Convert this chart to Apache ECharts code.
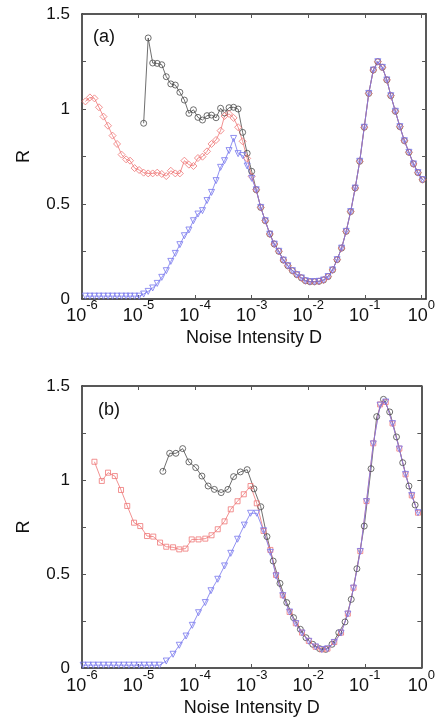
<!DOCTYPE html>
<html>
<head>
<meta charset="utf-8">
<script src="https://cdn.jsdelivr.net/npm/echarts@6/dist/echarts.min.js"></script>
<style>
  html, body { margin: 0; padding: 0; background: #fff; }
  #chart { width: 438px; height: 721px; }
</style>
</head>
<body>
<div id="chart"></div>
<script>
// panel (a): all three curves share one grid of log10(D)
const expA = [-5.94, -5.86, -5.78, -5.70, -5.62, -5.54, -5.46, -5.38, -5.30, -5.22,
  -5.15, -5.07, -4.99, -4.91, -4.83, -4.75, -4.67, -4.59, -4.51, -4.43,
  -4.35, -4.27, -4.19, -4.11, -4.03, -3.95, -3.87, -3.79, -3.71, -3.63,
  -3.55, -3.48, -3.40, -3.32, -3.24, -3.16, -3.08, -3.00, -2.92, -2.84,
  -2.76, -2.68, -2.60, -2.52, -2.44, -2.36, -2.28, -2.20, -2.12, -2.05,
  -1.97, -1.89, -1.81, -1.73, -1.65, -1.57, -1.49, -1.41, -1.33, -1.25,
  -1.17, -1.09, -1.01, -0.93, -0.85, -0.77, -0.69, -0.61, -0.54, -0.46,
  -0.38, -0.30, -0.22, -0.14, -0.06, 0.02]

// black curve starts at expA[13]
const blackHeadA = [0.925, 1.374, 1.242, 1.240, 1.233, 1.170, 1.132, 1.126, 1.088, 1.047,
  0.977, 0.996, 0.956, 0.942, 0.965, 0.968, 0.954, 1.004, 0.979, 1.007,
  1.009, 1.000, 0.877, 0.767, 0.672]
const redHeadA = [1.040, 1.061, 1.056, 1.009, 0.960, 0.912, 0.860, 0.816, 0.760, 0.735,
  0.728, 0.689, 0.679, 0.665, 0.661, 0.661, 0.665, 0.658, 0.647, 0.675,
  0.661, 0.661, 0.728, 0.707, 0.700, 0.742, 0.749, 0.777, 0.816, 0.837,
  0.886, 0.963, 0.974, 0.953, 0.904, 0.830, 0.740, 0.645]
const blueHeadA = [0.015, 0.015, 0.015, 0.015, 0.015, 0.015, 0.015, 0.015, 0.015, 0.015,
  0.015, 0.015, 0.015, 0.026, 0.040, 0.058, 0.082, 0.114, 0.149, 0.198,
  0.240, 0.286, 0.333, 0.363, 0.412, 0.447, 0.465, 0.518, 0.561, 0.623,
  0.693, 0.728, 0.781, 0.845, 0.765, 0.755, 0.700, 0.635]
// expA[38..75], where the three curves fall on top of each other
const tailA = [0.575, 0.482, 0.412, 0.342, 0.289, 0.251, 0.205, 0.175, 0.149, 0.128,
  0.111, 0.096, 0.091, 0.091, 0.093, 0.100, 0.118, 0.153, 0.207, 0.268,
  0.356, 0.460, 0.584, 0.725, 0.904, 1.082, 1.205, 1.249, 1.219, 1.153,
  1.070, 0.988, 0.907, 0.833, 0.772, 0.711, 0.665, 0.628]

// panel (b)
const expBlackB = [-4.57, -4.45, -4.34, -4.22, -4.11, -3.99, -3.88, -3.77, -3.66, -3.54,
  -3.42, -3.32, -3.20, -3.08, -2.96, -2.84, -2.73, -2.62, -2.50, -2.38,
  -2.26, -2.14, -2.04, -1.92, -1.80, -1.69, -1.58, -1.46, -1.35, -1.24,
  -1.14, -1.01, -0.89, -0.79, -0.67, -0.56, -0.44, -0.33, -0.22, -0.11]
const blackB = [1.046, 1.142, 1.142, 1.167, 1.096, 1.066, 1.021, 0.968, 0.950, 0.933,
  0.950, 1.018, 1.043, 1.055, 0.953, 0.858, 0.699, 0.569, 0.450, 0.348,
  0.268, 0.206, 0.161, 0.126, 0.103, 0.099, 0.126, 0.188, 0.245, 0.365,
  0.528, 0.755, 1.060, 1.337, 1.429, 1.362, 1.229, 1.092, 0.968, 0.867]

const expRedB = [-5.78, -5.65, -5.54, -5.42, -5.31, -5.20, -5.08, -4.97, -4.85, -4.74,
  -4.62, -4.51, -4.39, -4.28, -4.17, -4.06, -3.94, -3.82, -3.71, -3.60,
  -3.48, -3.37, -3.25, -3.14, -3.02, -2.91, -2.79, -2.67, -2.57, -2.45,
  -2.33, -2.22, -2.11, -1.99, -1.87, -1.76, -1.66, -1.54, -1.42, -1.30,
  -1.20, -1.08, -0.97, -0.85, -0.73, -0.63, -0.51, -0.39, -0.28, -0.17, -0.06]
const redB = [1.097, 0.995, 1.039, 1.021, 0.947, 0.862, 0.773, 0.755, 0.702, 0.699,
  0.667, 0.645, 0.642, 0.631, 0.635, 0.684, 0.684, 0.688, 0.706, 0.738,
  0.780, 0.844, 0.887, 0.924, 0.968, 0.876, 0.729, 0.628, 0.495, 0.387,
  0.298, 0.238, 0.188, 0.144, 0.113, 0.099, 0.103, 0.138, 0.188, 0.289,
  0.427, 0.622, 0.888, 1.195, 1.402, 1.415, 1.301, 1.167, 1.030, 0.918, 0.826]

const expBlueB = [-5.98, -5.89, -5.80, -5.71, -5.62, -5.53, -5.44, -5.35, -5.26, -5.17,
  -5.08, -4.99, -4.90, -4.81, -4.72, -4.63, -4.51, -4.39, -4.28, -4.16,
  -4.05, -3.94, -3.82, -3.72, -3.60, -3.48, -3.37, -3.25, -3.13, -3.02,
  -2.91, -2.79, -2.67, -2.57, -2.45, -2.33, -2.22, -2.11, -1.99, -1.87,
  -1.76, -1.66, -1.54, -1.42, -1.30, -1.20, -1.08, -0.97, -0.85, -0.73,
  -0.63, -0.51, -0.39, -0.28, -0.17, -0.06]
const blueB = [0.015, 0.015, 0.015, 0.015, 0.015, 0.015, 0.015, 0.015, 0.015, 0.015,
  0.015, 0.015, 0.015, 0.015, 0.015, 0.015, 0.037, 0.073, 0.121, 0.170,
  0.227, 0.294, 0.348, 0.411, 0.472, 0.543, 0.610, 0.685, 0.760, 0.823,
  0.823, 0.730, 0.615, 0.490, 0.385, 0.298, 0.236, 0.186, 0.142, 0.112,
  0.098, 0.102, 0.136, 0.186, 0.287, 0.425, 0.620, 0.885, 1.192, 1.398,
  1.415, 1.300, 1.165, 1.030, 0.918, 0.826]

const yTicks = ['0', '0.5', '1', '1.5']

const FONT = '"Liberation Sans", Arial, Helvetica, sans-serif'
const INK = '#111'
const BLACK = '#4a4a4a'
const RED = '#ef7676'
const BLUE = '#7676ee'

function pairs(exps, vals, offset) {
  return vals.map((v, i) => [Math.pow(10, exps[i + offset]), v])
}

function powLabel(v) {
  const e = Math.log10(v)
  const n = Math.round(e)
  if (Math.abs(e - n) > 1e-3) return ''
  return '{b|10}{s|' + n + '}'
}

function xAxes(grid, max, labelMargin, nameGap) {
  const line = { onZero: false, lineStyle: { color: '#222', width: 1.5 } }
  const tick = { inside: true, length: 4, lineStyle: { color: '#555' } }
  return [{
    gridIndex: grid, type: 'log', logBase: 10, min: 1e-6, max: max, splitNumber: 6,
    name: 'Noise Intensity D', nameLocation: 'middle', nameGap: nameGap,
    nameTextStyle: { fontFamily: FONT, fontSize: 18, color: INK },
    axisLine: line, axisTick: tick, splitLine: { show: false },
    axisLabel: {
      margin: labelMargin, formatter: powLabel, hideOverlap: false,
      rich: {
        b: { fontFamily: FONT, fontSize: 18, lineHeight: 26, verticalAlign: 'bottom', color: INK },
        s: { fontFamily: FONT, fontSize: 13, lineHeight: 13, verticalAlign: 'top', color: INK }
      }
    }
  }, {
    gridIndex: grid, type: 'log', logBase: 10, min: 1e-6, max: max, splitNumber: 6,
    position: 'top', axisLine: line, axisTick: tick,
    axisLabel: { show: false }, splitLine: { show: false }
  }]
}

function yAxes(grid) {
  const line = { onZero: false, lineStyle: { color: '#222', width: 1.5 } }
  const tick = { inside: true, length: 4, lineStyle: { color: '#555' } }
  return [{
    gridIndex: grid, type: 'value', min: 0, max: 1.5, interval: 0.25,
    name: 'R', nameLocation: 'middle', nameGap: 49, nameRotate: 90,
    nameTextStyle: { fontFamily: FONT, fontSize: 18, color: INK },
    axisLine: line, axisTick: tick, splitLine: { show: false },
    axisLabel: {
      margin: 12, fontFamily: FONT, fontSize: 17, color: INK,
      formatter: (v) => {
        const k = v * 2
        return Math.abs(k - Math.round(k)) < 1e-6 ? yTicks[Math.round(k)] : ''
      }
    }
  }, {
    gridIndex: grid, type: 'value', min: 0, max: 1.5, interval: 0.25, position: 'right',
    axisLine: line, axisTick: tick, axisLabel: { show: false }, splitLine: { show: false }
  }]
}

function curve(data, xi, yi, color, symbol, size, rotate) {
  return {
    type: 'line', data: data, xAxisIndex: xi, yAxisIndex: yi,
    symbol: symbol, symbolSize: size, symbolRotate: rotate || 0,
    showAllSymbol: true, silent: true, animation: false,
    lineStyle: { color: color, width: 0.8 },
    itemStyle: { color: 'rgba(255,255,255,0)', borderColor: color, borderWidth: 0.8 },
    emphasis: { disabled: true }
  }
}

const chart = echarts.init(document.getElementById('chart'))
chart.setOption({
  backgroundColor: '#fff',
  animation: false,
  grid: [
    { left: 82, top: 14, width: 345, height: 285 },
    { left: 82, top: 386, width: 340, height: 282 }
  ],
  xAxis: [...xAxes(0, 1.21, 0, 30), ...xAxes(1, 1, 1, 31)],
  yAxis: [...yAxes(0), ...yAxes(1)],
  graphic: [
    { type: 'text', x: 93, y: 37.5, style: { text: '(a)', font: '18px ' + FONT, fill: INK, verticalAlign: 'middle' } },
    { type: 'text', x: 98, y: 410.5, style: { text: '(b)', font: '18px ' + FONT, fill: INK, verticalAlign: 'middle' } }
  ],
  series: [
    curve(pairs(expA, blackHeadA.concat(tailA), 13), 0, 0, BLACK, 'circle', 6),
    curve(pairs(expA, redHeadA.concat(tailA), 0), 0, 0, RED, 'diamond', 7),
    curve(pairs(expA, blueHeadA.concat(tailA), 0), 0, 0, BLUE, 'triangle', 6, 180),
    curve(pairs(expBlackB, blackB, 0), 2, 2, BLACK, 'circle', 6),
    curve(pairs(expRedB, redB, 0), 2, 2, RED, 'rect', 5),
    curve(pairs(expBlueB, blueB, 0), 2, 2, BLUE, 'triangle', 6, 180)
  ]
})
</script>
</body>
</html>
